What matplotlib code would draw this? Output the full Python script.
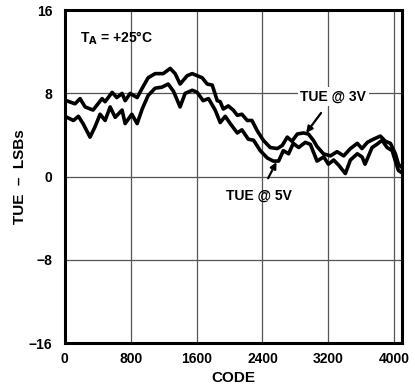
import matplotlib
matplotlib.use("Agg")
import matplotlib.pyplot as plt

# TUE @ 3V (upper curve)
code_3v = [20, 125, 186, 247, 344, 453, 490, 575, 632, 696, 733, 794, 879, 940,
           1012, 1097, 1195, 1280, 1340, 1400, 1486, 1547, 1608, 1668, 1729, 1790,
           1851, 1887, 1924, 1985, 2045, 2094, 2150, 2215, 2272, 2337, 2410, 2495,
           2580, 2640, 2701, 2758, 2823, 2896, 2957, 3017, 3062, 3139, 3224, 3305,
           3386, 3467, 3551, 3608, 3673, 3746, 3831, 3892, 3953, 4013, 4050, 4075]
tue_3v = [7.3, 7.0, 7.5, 6.7, 6.4, 7.5, 7.2, 8.1, 7.6, 8.0, 7.3, 8.0, 7.6, 8.5,
          9.5, 9.9, 9.9, 10.4, 9.9, 8.9, 9.7, 9.9, 9.7, 9.5, 8.9, 8.8,
          7.3, 7.2, 6.5, 6.8, 6.4, 5.9, 6.0, 5.4, 5.4, 4.4, 3.5, 2.8,
          2.7, 3.0, 3.8, 3.4, 4.1, 4.2, 4.1, 3.5, 2.9, 2.2, 2.0, 2.4,
          2.0, 2.7, 3.2, 2.7, 3.3, 3.6, 3.9, 3.4, 3.2, 2.2, 1.2, 1.0]

# TUE @ 5V (lower curve)
code_5v = [28, 105, 166, 222, 307, 368, 429, 490, 551, 612, 696, 733, 814, 879,
           940, 1012, 1097, 1180, 1255, 1320, 1400, 1461, 1547, 1608, 1680, 1745,
           1826, 1887, 1948, 2009, 2094, 2150, 2228, 2292, 2373, 2458, 2531, 2596,
           2653, 2717, 2774, 2839, 2920, 2981, 3062, 3143, 3200, 3264, 3325, 3406,
           3467, 3551, 3608, 3645, 3730, 3787, 3852, 3912, 3974, 4013, 4050, 4087]
tue_5v = [5.7, 5.4, 5.8, 5.1, 3.8, 4.8, 6.0, 5.4, 6.7, 5.7, 6.4, 5.1, 6.0, 5.1,
          6.5, 7.8, 8.5, 8.6, 8.9, 8.2, 6.7, 8.0, 8.3, 8.1, 7.3, 7.5,
          6.4, 5.2, 5.8, 5.1, 4.2, 4.5, 3.6, 3.5, 2.5, 1.8, 1.5, 1.5,
          2.5, 2.2, 3.2, 2.8, 3.3, 3.1, 1.5, 1.9, 1.2, 1.6, 1.1, 0.3,
          1.6, 2.2, 1.9, 1.2, 2.8, 3.1, 3.5, 2.8, 2.5, 1.5, 0.6, 0.4]

x_ticks = [0, 800, 1600, 2400, 3200, 4000]
y_ticks = [-16, -8, 0, 8, 16]

plt.rcParams['font.family'] = ['Liberation Sans', 'DejaVu Sans']
plt.rcParams['font.weight'] = 'bold'

fig = plt.figure(figsize=(4.15, 3.9), dpi=100)
ax = fig.add_axes([0.156, 0.12, 0.813, 0.854])

ax.plot(code_3v, tue_3v, color='black', lw=2.6, zorder=3)
ax.plot(code_5v, tue_5v, color='black', lw=2.6, zorder=3)

ax.set_xlim(0, 4095)
ax.set_ylim(-16, 16)
ax.set_xticks(x_ticks)
ax.set_yticks(y_ticks)
ax.grid(True, color='#555555', lw=0.9)
ax.tick_params(axis='x', length=0, labelsize=10, pad=6)
ax.tick_params(axis='y', length=0, labelsize=10, pad=9)
for s in ax.spines.values():
    s.set_linewidth(2.2)

ax.set_xlabel('CODE', fontsize=11, fontweight='bold', labelpad=4)
ax.set_ylabel('TUE  –  LSBs', fontsize=11, fontweight='bold', labelpad=1)

ax.text(185, 13.3, r'T$_\mathbf{A}$ = +25°C', fontsize=10, fontweight='bold',
        va='center', ha='left')

ax.annotate('TUE @ 3V', xy=(2930, 4.2), xytext=(3260, 7.7),
            fontsize=10, fontweight='bold', ha='center', va='center',
            bbox=dict(boxstyle='square,pad=0.2', fc='white', ec='none'),
            arrowprops=dict(arrowstyle='-|>', color='black', lw=1.6,
                            shrinkA=6, shrinkB=0, mutation_scale=9),
            zorder=4)
ax.annotate('TUE @ 5V', xy=(2570, 1.4), xytext=(2360, -1.8),
            fontsize=10, fontweight='bold', ha='center', va='center',
            arrowprops=dict(arrowstyle='-|>', color='black', lw=1.6,
                            shrinkA=6, shrinkB=0, mutation_scale=9),
            zorder=4)

fig.savefig('out.png', dpi=100)
